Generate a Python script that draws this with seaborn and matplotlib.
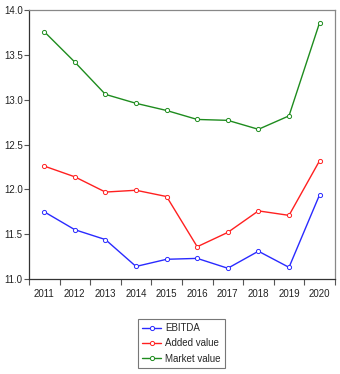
import seaborn as sns
import matplotlib.pyplot as plt
import pandas as pd
from matplotlib import font_manager

years = [2011, 2012, 2013, 2014, 2015, 2016, 2017, 2018, 2019, 2020]
ebitda = [11.75, 11.55, 11.44, 11.14, 11.22, 11.23, 11.12, 11.31, 11.13, 11.94]
added_value = [12.26, 12.14, 11.97, 11.99, 11.92, 11.36, 11.52, 11.76, 11.71, 12.32]
market_value = [13.76, 13.42, 13.06, 12.96, 12.88, 12.78, 12.77, 12.67, 12.82, 13.86]

series = [("EBITDA", ebitda, "#2a2aff"),
          ("Added value", added_value, "#ff2020"),
          ("Market value", market_value, "#1e8c1e")]

sns.set_style("white")
installed = {f.name for f in font_manager.fontManager.ttflist}
if "Liberation Sans Narrow" in installed:
    plt.rcParams['font.family'] = ['Liberation Sans Narrow', 'DejaVu Sans']
    fs = 8
else:
    plt.rcParams['font.family'] = ['Liberation Sans', 'DejaVu Sans']
    fs = 7

fig = plt.figure(figsize=(3.4, 3.74), dpi=100)
ax = fig.add_axes([0.085, 0.254, 0.9, 0.719])

for name, vals, col in series:
    df = pd.DataFrame({"year": years, "value": vals})
    sns.lineplot(data=df, x="year", y="value", ax=ax, color=col, lw=1.0,
                 marker="o", markersize=3, markerfacecolor="white",
                 markeredgecolor=col, markeredgewidth=0.7, label=name)

ax.set_xlim(2010.5, 2020.5)
ax.set_ylim(11.0, 14.0)
ax.set_yticks([11.0, 11.5, 12.0, 12.5, 13.0, 13.5, 14.0])
ax.set_yticklabels(["11.0", "11.5", "12.0", "12.5", "13.0", "13.5", "14.0"])
ax.set_xticks(years)
ax.set_xticklabels([str(y) for y in years])
ax.set_xticks([y - 0.5 for y in years] + [2020.5], minor=True)
ax.tick_params(axis="x", which="major", length=0, labelsize=fs, pad=7, labelcolor="#222222")
ax.tick_params(axis="x", which="minor", length=4, width=0.8, color="#555555", direction="out", bottom=True)
ax.tick_params(axis="y", length=3.5, width=0.8, color="#555555", direction="out", left=True,
               labelsize=fs, pad=1, labelcolor="#222222")
ax.set_xlabel("")
ax.set_ylabel("")

for side in ["left", "bottom"]:
    ax.spines[side].set_color("#333333")
    ax.spines[side].set_linewidth(0.9)
for side in ["top", "right"]:
    ax.spines[side].set_color("#888888")
    ax.spines[side].set_linewidth(0.9)

ax.legend_.remove()
handles, labels = ax.get_legend_handles_labels()
leg = fig.legend(handles, labels, loc="upper center", bbox_to_anchor=(0.533, 0.148),
                 frameon=True, fancybox=False, fontsize=fs, handlelength=2.0,
                 handletextpad=0.35, borderpad=0.45, borderaxespad=0, labelspacing=0.55)
leg.get_frame().set_edgecolor("#555555")
leg.get_frame().set_linewidth(0.8)

fig.savefig("out.png", dpi=100)
